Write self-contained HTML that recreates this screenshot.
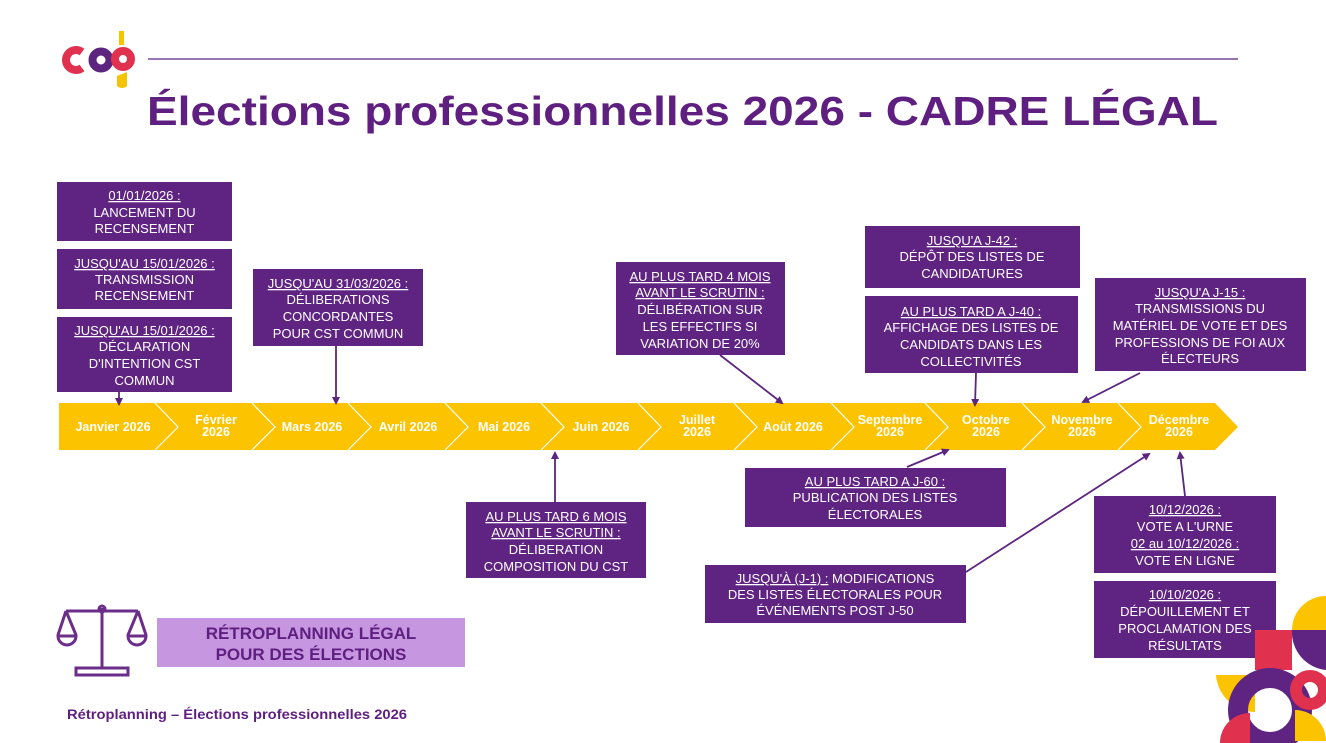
<!DOCTYPE html>
<html><head><meta charset="utf-8"><style>
html,body{margin:0;padding:0;background:#fff;}
svg{display:block;}
text{font-family:"Liberation Sans",sans-serif;}
</style></head><body>
<svg width="1326" height="743" viewBox="0 0 1326 743" xmlns="http://www.w3.org/2000/svg">
<defs>
<marker id="ah" markerWidth="8" markerHeight="8" refX="6" refY="4" orient="auto" markerUnits="userSpaceOnUse">
<path d="M0,0 L8,4 L0,8 Z" fill="#5c2580"/>
</marker>
</defs>
<!-- logo -->
<path d="M82,52 A10,10 0 1 0 82,68" fill="none" stroke="#e0314f" stroke-width="8"/>
<circle cx="101" cy="60" r="8.5" fill="none" stroke="#5c2580" stroke-width="8"/>
<circle cx="123" cy="59" r="8" fill="none" stroke="#e0314f" stroke-width="8"/>
<rect x="119" y="31" width="5" height="14" fill="#f5c400"/>
<path d="M117,76 L127,72 L127,86 Q122,90 117,86 Z" fill="#f5c400"/>
<line x1="148" y1="59" x2="1238" y2="59" stroke="#5c2580" stroke-width="1.3"/>
<text x="147" y="125" font-size="41" font-weight="bold" fill="#5f1f80" textLength="1071" lengthAdjust="spacingAndGlyphs">Élections professionnelles 2026 - CADRE LÉGAL</text>

<!-- timeline band -->
<path d="M59,403 L1215,403 L1238,427 L1215,450 L59,450 Z" fill="#fcc400"/>
<g fill="none" stroke="#fff" stroke-width="1.2">
<path d="M155,403 L178,427 L155,450"/>
<path d="M252,403 L275,427 L252,450"/>
<path d="M348,403 L371,427 L348,450"/>
<path d="M445,403 L468,427 L445,450"/>
<path d="M541,403 L564,427 L541,450"/>
<path d="M638,403 L661,427 L638,450"/>
<path d="M734,403 L757,427 L734,450"/>
<path d="M831,403 L854,427 L831,450"/>
<path d="M925,403 L948,427 L925,450"/>
<path d="M1022,403 L1045,427 L1022,450"/>
<path d="M1118,403 L1141,427 L1118,450"/>
</g>
<g fill="#fff" font-size="12.5" font-weight="bold" text-anchor="middle">
<text x="113" y="431">Janvier 2026</text>
<text x="216" y="424">Février</text><text x="216" y="436">2026</text>
<text x="312" y="431">Mars 2026</text>
<text x="408" y="431">Avril 2026</text>
<text x="504" y="431">Mai 2026</text>
<text x="601" y="431">Juin 2026</text>
<text x="697" y="424">Juillet</text><text x="697" y="436">2026</text>
<text x="793" y="431">Août 2026</text>
<text x="890" y="424">Septembre</text><text x="890" y="436">2026</text>
<text x="986" y="424">Octobre</text><text x="986" y="436">2026</text>
<text x="1082" y="424">Novembre</text><text x="1082" y="436">2026</text>
<text x="1179" y="424">Décembre</text><text x="1179" y="436">2026</text>
</g>

<!-- boxes -->
<g fill="#5f2382">
<rect x="57" y="182" width="175" height="59"/>
<rect x="57" y="249" width="175" height="60"/>
<rect x="57" y="317" width="175" height="75"/>
<rect x="253" y="269" width="170" height="77"/>
<rect x="616" y="262" width="169" height="93"/>
<rect x="865" y="226" width="215" height="62"/>
<rect x="865" y="296" width="213" height="77"/>
<rect x="1095" y="278" width="211" height="93"/>
<rect x="745" y="468" width="261" height="59"/>
<rect x="466" y="502" width="180" height="76"/>
<rect x="705" y="565" width="261" height="58"/>
<rect x="1094" y="496" width="182" height="77"/>
<rect x="1094" y="581" width="182" height="77"/>
</g>
<g fill="#fff" font-size="13" text-anchor="middle">
<text x="144.5" y="200" text-decoration="underline">01/01/2026 :</text>
<text x="144.5" y="217">LANCEMENT DU</text>
<text x="144.5" y="233">RECENSEMENT</text>

<text x="144.5" y="268" text-decoration="underline">JUSQU'AU 15/01/2026 :</text>
<text x="144.5" y="284">TRANSMISSION</text>
<text x="144.5" y="300">RECENSEMENT</text>

<text x="144.5" y="335" text-decoration="underline">JUSQU'AU 15/01/2026 :</text>
<text x="144.5" y="351">DÉCLARATION</text>
<text x="144.5" y="368">D'INTENTION CST</text>
<text x="144.5" y="385">COMMUN</text>

<text x="338" y="288" text-decoration="underline">JUSQU'AU 31/03/2026 :</text>
<text x="338" y="304">DÉLIBERATIONS</text>
<text x="338" y="321">CONCORDANTES</text>
<text x="338" y="338">POUR CST COMMUN</text>

<text x="700" y="281" text-decoration="underline">AU PLUS TARD 4 MOIS</text>
<text x="700" y="297" text-decoration="underline">AVANT LE SCRUTIN :</text>
<text x="700" y="314">DÉLIBÉRATION SUR</text>
<text x="700" y="331">LES EFFECTIFS SI</text>
<text x="700" y="348">VARIATION DE 20%</text>

<text x="972" y="245" text-decoration="underline">JUSQU'A J-42 :</text>
<text x="972" y="261">DÉPÔT DES LISTES DE</text>
<text x="972" y="278">CANDIDATURES</text>

<text x="971" y="316" text-decoration="underline">AU PLUS TARD A J-40 :</text>
<text x="971" y="332">AFFICHAGE DES LISTES DE</text>
<text x="971" y="349">CANDIDATS DANS LES</text>
<text x="971" y="366">COLLECTIVITÉS</text>

<text x="1200" y="297" text-decoration="underline">JUSQU'A J-15 :</text>
<text x="1200" y="313">TRANSMISSIONS DU</text>
<text x="1200" y="330">MATÉRIEL DE VOTE ET DES</text>
<text x="1200" y="347">PROFESSIONS DE FOI AUX</text>
<text x="1200" y="363">ÉLECTEURS</text>

<text x="875" y="486" text-decoration="underline">AU PLUS TARD A J-60 :</text>
<text x="875" y="502">PUBLICATION DES LISTES</text>
<text x="875" y="519">ÉLECTORALES</text>

<text x="556" y="521" text-decoration="underline">AU PLUS TARD 6 MOIS</text>
<text x="556" y="537" text-decoration="underline">AVANT LE SCRUTIN :</text>
<text x="556" y="554">DÉLIBERATION</text>
<text x="556" y="571">COMPOSITION DU CST</text>

<text x="835" y="583"><tspan text-decoration="underline">JUSQU'À  (J-1) :</tspan> MODIFICATIONS</text>
<text x="835" y="599">DES LISTES ÉLECTORALES POUR</text>
<text x="835" y="615">ÉVÉNEMENTS POST J-50</text>

<text x="1185" y="514" text-decoration="underline">10/12/2026 :</text>
<text x="1185" y="531">VOTE A L'URNE</text>
<text x="1185" y="548" text-decoration="underline">02 au 10/12/2026 :</text>
<text x="1185" y="565">VOTE EN LIGNE</text>

<text x="1185" y="599" text-decoration="underline">10/10/2026 :</text>
<text x="1185" y="616">DÉPOUILLEMENT ET</text>
<text x="1185" y="633">PROCLAMATION DES</text>
<text x="1185" y="650">RÉSULTATS</text>
</g>

<!-- connectors -->
<g stroke="#5c2580" stroke-width="1.8" fill="none" marker-end="url(#ah)">
<line x1="119" y1="392" x2="119" y2="404"/>
<line x1="336" y1="346" x2="336" y2="403"/>
<line x1="720" y1="355" x2="782" y2="403"/>
<line x1="976" y1="373" x2="975" y2="405"/>
<line x1="1140" y1="373" x2="1083" y2="402"/>
<line x1="907" y1="467" x2="948" y2="450"/>
<line x1="966" y1="572" x2="1149" y2="454"/>
<line x1="555" y1="502" x2="555" y2="453"/>
<line x1="1185" y1="496" x2="1180" y2="453"/>
</g>

<!-- scales icon -->
<g fill="none" stroke="#6b2d8a" stroke-width="3">
<line x1="102" y1="608" x2="102" y2="668"/>
<line x1="66" y1="611" x2="138" y2="611"/>
<circle cx="102" cy="609" r="3"/>
<path d="M66,611 L58,635 M66,611 L76,635 M138,611 L128,635 M138,611 L146,635"/>
<path d="M58,636 A9,9 0 0 0 76,636 Z"/>
<path d="M128,636 A9,9 0 0 0 146,636 Z"/>
<rect x="76" y="668" width="52" height="7"/>
</g>
<rect x="157" y="618" width="308" height="49" fill="#c796e0"/>
<g fill="#5f1f80" font-size="17" font-weight="bold" text-anchor="middle">
<text x="311" y="639">RÉTROPLANNING LÉGAL</text>
<text x="311" y="660">POUR DES ÉLECTIONS</text>
</g>
<text x="67" y="719" font-size="13.5" font-weight="bold" fill="#5f1f80" textLength="340" lengthAdjust="spacingAndGlyphs">Rétroplanning – Élections professionnelles 2026</text>

<!-- deco bottom right -->
<path d="M1292,630 A34,34 0 0 1 1326,596 L1326,630 Z" fill="#fcc400"/>
<rect x="1255" y="630" width="37" height="40" fill="#e0314f"/>
<path d="M1292,630 L1326,630 L1326,670 A38,38 0 0 1 1292,630 Z" fill="#5f2382"/>
<path d="M1216,675 L1255,675 L1255,712 A40,40 0 0 1 1216,675 Z" fill="#fcc400"/>
<circle cx="1270" cy="710" r="32" fill="none" stroke="#5f2382" stroke-width="20"/>
<circle cx="1310" cy="690" r="14" fill="none" stroke="#e0314f" stroke-width="12"/>
<path d="M1220,743 A30,30 0 0 1 1250,713 L1250,743 Z" fill="#e0314f"/>
<path d="M1295,710 A31,31 0 0 1 1326,741 L1295,741 Z" fill="#fcc400"/>
</svg>
</body></html>
